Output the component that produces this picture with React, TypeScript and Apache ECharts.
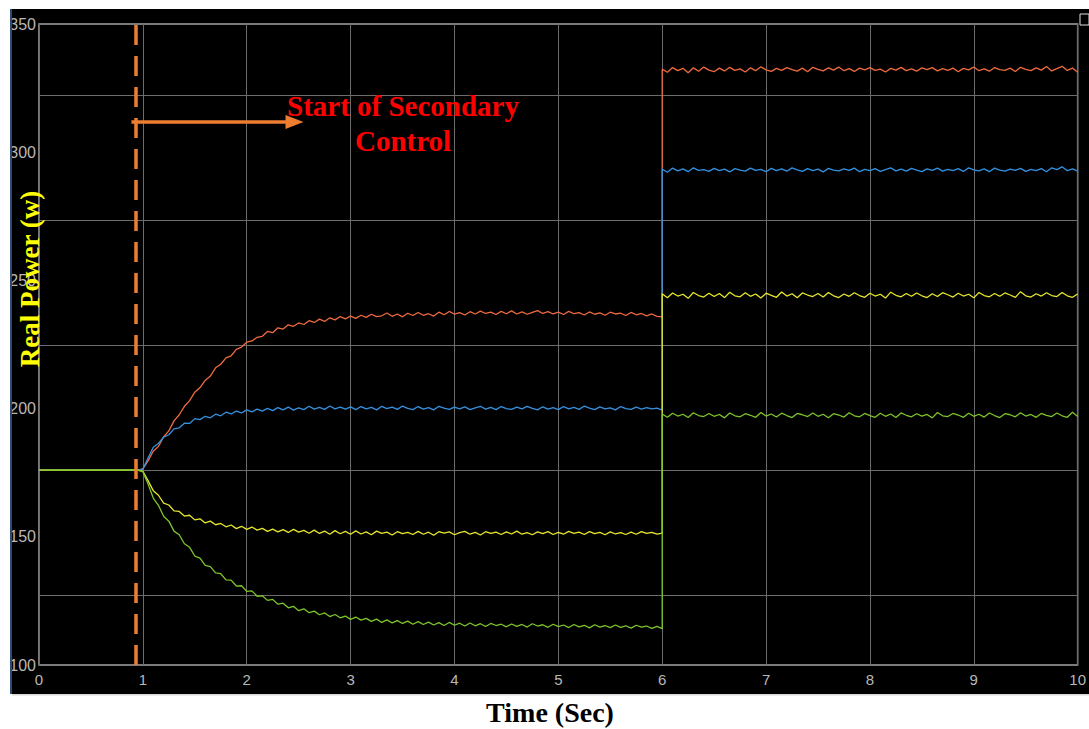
import React, { useEffect, useRef } from "react";
import * as echarts from "echarts";

// Sample times: flat start, then 0.05 s samples from 1.00 to 6.00 and from 6.00 to 10.00
const START_T = [0, 0.95];
const START_V = 176;
const PRE_T0 = 1.0;
const POST_T0 = 6.0;
const STEP = 0.05;

const redPre = [
  176.5, 179.6, 183.4, 185.2, 189.0, 191.3, 195.2, 197.6, 200.9, 203.1,
  206.4, 208.2, 211.0, 212.7, 215.9, 217.3, 219.8, 220.6, 223.1, 224.0,
  225.9, 226.4, 227.8, 228.2, 230.1, 229.6, 231.5, 231.0, 232.7, 232.1,
  233.4, 232.8, 234.3, 233.6, 234.9, 234.0, 235.4, 234.6, 235.9, 235.0,
  236.1, 235.2, 236.4, 235.6, 236.8, 235.9, 236.2, 237.3, 236.0, 236.9,
  235.8, 237.2, 236.3, 237.5, 236.4, 237.0, 236.1, 237.6, 236.6, 237.9,
  236.8, 237.4, 236.5, 237.8, 236.9, 238.0, 237.1, 237.6, 236.7, 237.9,
  237.0, 238.1, 236.9, 237.7, 236.8, 237.5, 238.2, 237.1, 237.8, 236.9,
  237.6, 236.7, 237.9, 237.0, 237.4, 236.5, 237.7, 236.8, 237.3, 236.4,
  237.6, 236.9, 237.2, 236.3, 237.5, 236.6, 237.1, 236.2, 236.9, 236.0,
  235.8,
];
const redPost = [
  332.4, 331.2, 333.0, 331.8, 332.7, 331.0, 332.9, 331.6, 333.2, 332.0,
  331.4, 332.8, 331.7, 333.1, 331.9, 332.5, 331.3, 332.9, 331.8, 333.3,
  332.1, 331.5, 332.7, 331.9, 333.0, 332.2, 331.6, 332.8, 331.4, 333.1,
  332.3, 331.7, 332.9, 332.0, 333.2, 331.8, 332.6, 331.5, 332.8, 332.1,
  333.0, 331.9, 332.4, 331.3, 332.7, 332.0, 333.1, 331.8, 332.5, 331.6,
  332.9, 332.2, 333.0, 331.7, 332.6, 331.9, 332.8, 331.4, 332.7, 332.1,
  333.2, 331.8, 332.5, 331.6, 333.0, 332.2, 331.9, 332.8, 331.5, 333.1,
  332.3, 331.8, 332.9, 332.0, 333.4, 331.7, 332.6, 333.5, 331.9, 332.8,
  331.2,
];
const bluePre = [
  176.4, 180.7, 184.9, 186.4, 188.9, 189.8, 192.1, 192.5, 194.3, 194.2,
  196.1, 195.7, 197.0, 196.4, 197.8, 197.2, 198.6, 197.9, 199.0, 198.3,
  199.5, 198.7, 199.8, 199.0, 200.1, 199.2, 200.4, 199.5, 200.6, 199.4,
  200.3, 199.6, 200.9, 199.8, 200.5, 199.7, 201.0, 199.9, 200.6, 199.8,
  200.7, 199.6, 200.8, 199.9, 200.5, 199.5, 200.9, 200.0, 200.6, 199.7,
  201.0, 200.1, 199.6, 200.8, 199.8, 200.4, 199.5, 200.9, 200.2, 199.7,
  200.6, 199.9, 200.7, 199.6, 200.3, 200.9, 199.8, 200.5, 199.6, 200.8,
  200.0, 199.7, 200.6, 199.9, 200.9, 200.1, 199.5, 200.7, 199.8, 200.4,
  199.6, 200.8, 199.9, 200.5, 199.7, 201.0, 200.2, 199.6, 200.7, 199.9,
  200.3, 199.5, 200.8, 200.0, 199.7, 200.6, 199.8, 200.4, 199.9, 200.2,
  199.4,
];
const bluePost = [
  293.4, 292.2, 293.8, 292.7, 293.5, 292.4, 293.9, 292.9, 293.2, 292.5,
  293.7, 292.8, 293.4, 292.3, 293.6, 293.0, 292.6, 293.8, 292.9, 293.3,
  292.4, 293.7, 292.8, 293.5, 292.6, 293.9, 293.1, 292.5, 293.6, 292.8,
  293.4, 292.3, 293.7, 293.0, 292.7, 293.5, 292.9, 293.8, 292.4, 293.3,
  292.8, 293.6, 292.5, 293.2, 293.9, 292.7, 293.4, 292.6, 293.7, 293.0,
  292.4, 293.5, 292.9, 293.8, 292.6, 293.3, 292.8, 293.6, 292.5, 293.9,
  293.1, 292.7, 293.5, 292.4, 293.8, 293.0, 292.6, 293.4, 292.9, 293.7,
  292.5, 293.3, 292.8, 293.6, 292.4, 293.9, 293.2, 294.3, 292.8, 293.5,
  292.6,
];
const yellowPre = [
  175.5, 171.9, 168.0, 166.2, 163.1, 162.4, 160.1, 159.9, 158.1, 158.4,
  156.6, 157.0, 155.4, 156.1, 154.7, 155.2, 153.9, 154.6, 153.2, 154.1,
  152.9, 153.8, 152.6, 153.3, 152.1, 153.0, 151.9, 152.8, 151.7, 152.9,
  151.8, 152.5, 151.4, 152.6, 151.3, 152.2, 151.0, 152.4, 151.2, 152.1,
  151.0, 152.3, 151.1, 151.9, 150.8, 152.2, 151.3, 151.8, 150.7, 152.0,
  151.2, 151.7, 150.9, 152.1, 151.0, 151.8, 150.6, 152.0, 151.4, 151.9,
  150.8, 151.6, 152.1, 151.0, 151.7, 150.7, 152.0, 151.3, 151.8, 150.9,
  151.9, 151.1, 152.2, 151.0, 151.6, 150.8, 151.9, 151.2, 152.0, 150.9,
  151.7, 151.0, 152.1, 151.3, 151.8, 150.9, 152.0, 151.2, 151.7, 150.8,
  151.9, 151.1, 151.6, 150.9, 151.8, 151.0, 152.0, 151.3, 151.7, 151.0,
  151.4,
];
const yellowPost = [
  244.8, 243.2, 245.1, 243.9, 244.6, 243.0, 245.3, 244.1, 243.5, 245.0,
  243.7, 244.9, 243.3, 245.4, 244.0, 243.6, 245.2, 243.8, 244.7, 243.1,
  245.0, 244.2, 243.4, 245.5, 243.9, 244.8, 243.2, 245.1, 244.3, 243.7,
  244.9, 243.5, 245.3, 244.0, 243.3, 244.7, 243.8, 245.2, 244.1, 243.4,
  245.0, 243.9, 244.6, 243.1, 245.4, 244.2, 243.6, 244.9, 243.8, 245.1,
  244.0, 243.3, 244.8, 243.7, 245.2, 244.4, 243.5, 245.0, 243.9, 244.6,
  243.2, 245.3, 244.1, 243.6, 244.9, 243.8, 245.1, 244.3, 243.4, 245.6,
  244.0, 243.5, 244.8, 243.9, 245.2, 244.1, 243.7, 245.3, 244.0, 243.4,
  244.7,
];
const greenPre = [
  175.4, 170.6, 165.1, 162.3, 158.0, 156.1, 152.2, 150.8, 147.3, 145.9,
  142.5, 141.7, 138.9, 138.4, 135.9, 135.6, 133.2, 133.1, 130.8, 130.9,
  128.7, 128.9, 126.8, 127.0, 125.2, 125.6, 123.7, 124.1, 122.3, 122.9,
  121.2, 121.9, 120.4, 121.0, 119.6, 120.3, 118.9, 119.7, 118.4, 119.1,
  117.8, 118.7, 117.5, 118.2, 117.0, 117.9, 116.6, 117.6, 116.4, 117.3,
  116.2, 117.1, 115.9, 116.9, 115.8, 116.7, 115.6, 116.5, 115.4, 116.6,
  115.5, 116.3, 115.2, 116.4, 115.3, 116.1, 115.0, 116.2, 115.4, 115.9,
  114.9, 116.0, 115.1, 115.8, 114.8, 116.1, 115.2, 115.7, 114.7, 115.9,
  115.0, 115.6, 114.6, 115.8, 114.9, 115.5, 114.5, 115.7, 114.8, 115.4,
  114.6, 115.6, 114.7, 115.3, 114.4, 115.5, 114.8, 115.2, 114.3, 115.1,
  114.2,
];
const greenPost = [
  197.9, 196.6, 198.2, 197.1, 197.8, 196.5, 198.4, 197.3, 196.9, 198.1,
  197.0, 197.7, 196.4, 198.3, 197.2, 196.8, 198.0, 197.4, 196.6, 198.5,
  197.1, 197.9, 196.7, 198.2, 197.3, 196.5, 198.1, 197.6, 196.9, 198.3,
  197.0, 197.8, 196.4, 198.0, 197.5, 196.7, 198.4, 197.2, 196.8, 198.1,
  197.3, 196.6, 198.2, 197.0, 197.9, 196.5, 198.3, 197.4, 196.8, 198.0,
  197.1, 197.7, 196.4, 198.5, 197.2, 196.9, 198.1, 197.5, 196.6, 198.2,
  197.0, 197.8, 196.7, 198.3, 197.3, 196.5, 198.0, 197.6, 196.8, 198.4,
  197.1, 197.7, 196.6, 198.1, 197.4, 196.9, 198.3, 197.2, 196.6, 198.6,
  196.9,
];

// Scope grid lines (horizontal) as drawn in the scope
const H_GRID = [127.3, 176.1, 224.8, 273.6, 322.3];
const CONTROL_START_T = 0.93;
const ARROW = { y: 311.8, from: 0.89, to: 2.46 };

const COLORS = {
  red: "#EE6A3E",
  blue: "#3591E0",
  yellow: "#E6E62C",
  green: "#7CC52A",
};

function build(pre: number[], post: number[]) {
  const d: number[][] = START_T.map((t) => [t, START_V]);
  pre.forEach((v, i) => d.push([+(PRE_T0 + i * STEP).toFixed(2), v]));
  post.forEach((v, i) => d.push([+(POST_T0 + i * STEP).toFixed(2), v]));
  return d;
}

export default function App() {
  const ref = useRef<HTMLDivElement>(null);
  useEffect(() => {
    if (!ref.current) return;
    const chart = echarts.init(ref.current, null, { renderer: "svg" });
    const lineSeries = (name: string, pre: number[], post: number[], color: string) => ({
      name,
      type: "line",
      data: build(pre, post),
      showSymbol: false,
      symbol: "none",
      lineStyle: { color, width: 1.3 },
      z: 3,
    });
    const serif = "'Liberation Serif', 'Times New Roman', serif";
    chart.setOption({
      animation: false,
      backgroundColor: "#000",
      grid: {
        left: 39,
        right: 9,
        top: 24,
        bottom: 64,
        show: true,
        borderColor: "#a4a4a4",
        borderWidth: 1.5,
        backgroundColor: "transparent",
      },
      xAxis: {
        type: "value",
        min: 0,
        max: 10,
        interval: 1,
        axisLine: { show: false },
        axisTick: { show: false },
        splitLine: { show: true, lineStyle: { color: "#6c6c6c", width: 1 } },
        axisLabel: {
          color: "#b8b8b8",
          fontSize: 15,
          margin: 7,
          fontFamily: "'Liberation Sans Narrow', 'Liberation Sans', sans-serif",
        },
      },
      yAxis: {
        type: "value",
        min: 100,
        max: 350,
        interval: 50,
        axisLine: { show: false },
        axisTick: { show: false },
        splitLine: { show: false },
        axisLabel: {
          color: "#b8b8b8",
          fontSize: 16,
          margin: 3,
          fontFamily: "'Liberation Sans Narrow', 'Liberation Sans', sans-serif",
        },
      },
      series: [
        {
          type: "line",
          data: [],
          z: 1,
          markLine: {
            silent: true,
            z: 1,
            symbol: "none",
            label: { show: false },
            lineStyle: { color: "#6c6c6c", type: "solid", width: 1 },
            data: H_GRID.map((y) => ({ yAxis: y })),
          },
        },
        lineSeries("P1", redPre, redPost, COLORS.red),
        lineSeries("P2", bluePre, bluePost, COLORS.blue),
        lineSeries("P3", yellowPre, yellowPost, COLORS.yellow),
        lineSeries("P4", greenPre, greenPost, COLORS.green),
        {
          type: "line",
          data: [],
          z: 6,
          markLine: {
            silent: true,
            z: 8,
            symbol: "none",
            label: { show: false },
            data: [
              {
                xAxis: CONTROL_START_T,
                lineStyle: { color: "#ED7D31", type: [20, 11], width: 3.5 },
              },
              [
                {
                  coord: [ARROW.from, ARROW.y],
                  symbol: "none",
                  lineStyle: { color: "#ED7D31", type: "solid", width: 3.5 },
                },
                { coord: [ARROW.to, ARROW.y], symbol: "triangle", symbolSize: [14, 18], symbolRotate: -90 },
              ],
            ],
          },
        },
      ],
      graphic: [
        { type: "rect", shape: { x: 0, y: 0, width: 1089, height: 9 }, style: { fill: "#fff" }, z: 10 },
        { type: "rect", shape: { x: 0, y: 0, width: 10, height: 729 }, style: { fill: "#fff" }, z: 10 },
        { type: "rect", shape: { x: 0, y: 694, width: 1089, height: 35 }, style: { fill: "#fff" }, z: 10 },
        { type: "rect", shape: { x: 10, y: 9, width: 2, height: 685 }, style: { fill: "#2d4a70" }, z: 11 },
        { type: "rect", shape: { x: 12, y: 694, width: 1077, height: 1.5 }, style: { fill: "#d8d8d8" }, z: 11 },
        {
          type: "rect",
          shape: { x: 1080, y: 14, width: 9, height: 11 },
          style: { fill: "#000", stroke: "#e0e0e0", lineWidth: 1 },
          z: 11,
        },
        {
          type: "text",
          x: 30,
          y: 279,
          rotation: Math.PI / 2,
          z: 12,
          style: {
            text: "Real Power (w)",
            fill: "#FFFF00",
            font: `bold 27px ${serif}`,
            textAlign: "center",
            textVerticalAlign: "middle",
          },
        },
        {
          type: "text",
          x: 550,
          y: 712,
          z: 12,
          style: {
            text: "Time (Sec)",
            fill: "#000",
            font: `bold 28px ${serif}`,
            textAlign: "center",
            textVerticalAlign: "middle",
          },
        },
        {
          type: "text",
          x: 403,
          y: 106,
          z: 12,
          style: {
            text: "Start of Secondary",
            fill: "#FF0000",
            font: `bold 29px ${serif}`,
            textAlign: "center",
            textVerticalAlign: "middle",
          },
        },
        {
          type: "text",
          x: 403,
          y: 141,
          z: 12,
          style: {
            text: "Control",
            fill: "#FF0000",
            font: `bold 29px ${serif}`,
            textAlign: "center",
            textVerticalAlign: "middle",
          },
        },
      ],
    });
    return () => chart.dispose();
  }, []);
  return (
    <div
      ref={ref}
      style={{ position: "fixed", left: 0, top: 0, width: 1089, height: 729 }}
    />
  );
}
